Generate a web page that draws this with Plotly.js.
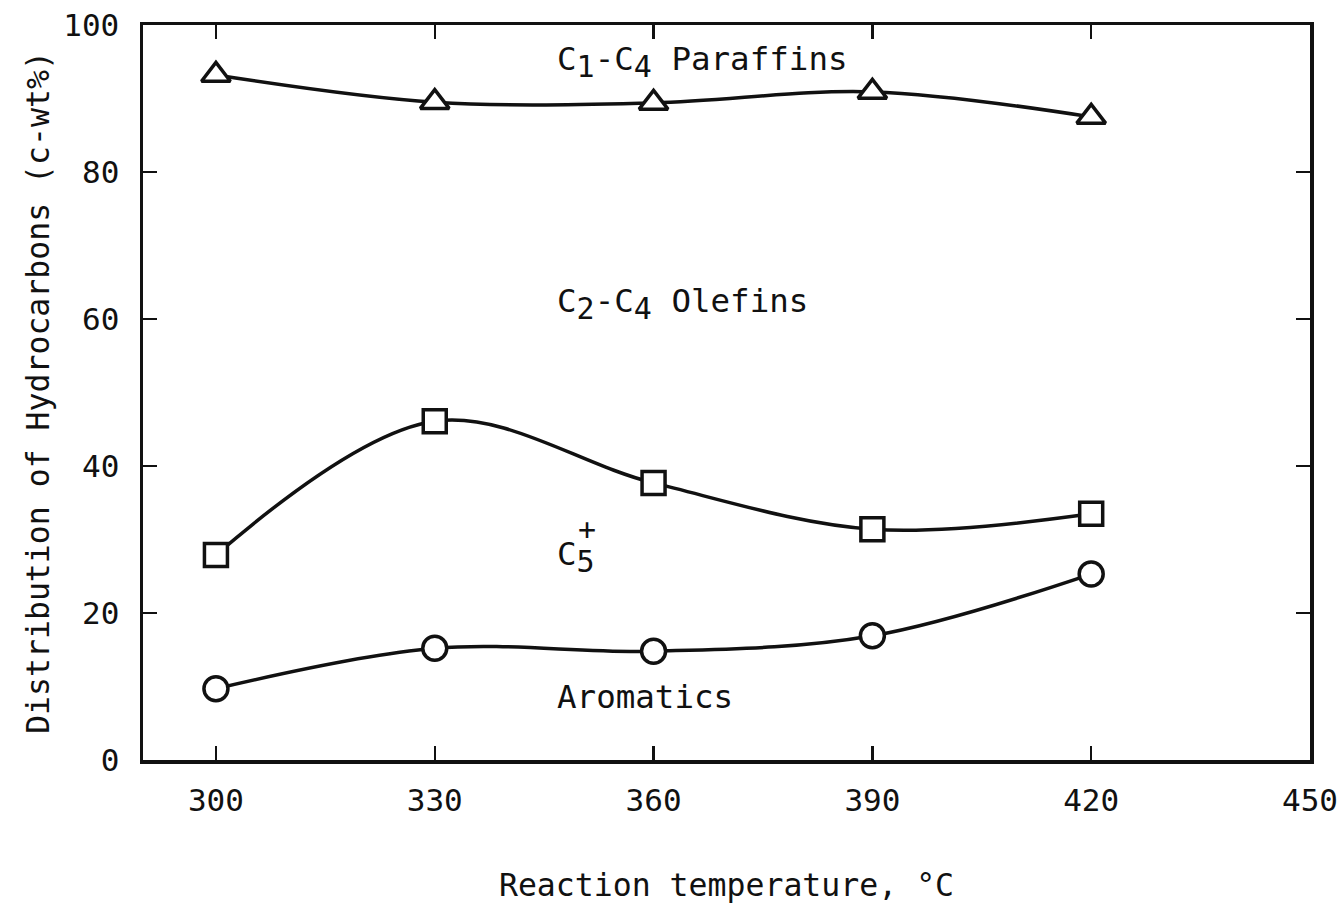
<!DOCTYPE html>
<html>
<head>
<meta charset="utf-8">
<script src="https://cdn.plot.ly/plotly-3.0.1.min.js"></script>
<style>html,body{margin:0;padding:0;background:#fff;}#chart{width:1341px;height:906px;}</style>
</head>
<body>
<div id="chart"></div>
<script>
const temperatures = [300, 330, 360, 390, 420];
const paraffins = [93.2, 89.5, 89.4, 90.9, 87.5];
const cPlus = [27.9, 46.1, 37.7, 31.4, 33.5];
const aromatics = [9.7, 15.2, 14.8, 16.9, 25.3];
const xTicks = [300, 330, 360, 390, 420, 450];
const yTicks = [0, 20, 40, 60, 80, 100];

const FONT = "DejaVu Sans Mono, monospace";

function series(y, symbol, size) {
  return {
    x: temperatures, y: y, type: 'scatter', mode: 'lines+markers',
    line: {color: '#111', width: 3.5, shape: 'spline', smoothing: 1},
    marker: {symbol: symbol, size: size, color: '#fff', line: {color: '#111', width: 3.5}},
    showlegend: false, hoverinfo: 'x+y'
  };
}

const data = [
  series(paraffins, 'triangle-up', 25),
  series(cPlus, 'square', 23),
  series(aromatics, 'circle', 24)
];

function sub(t) { return '<sub><span style="font-size:30px">' + t + '</span></sub>'; }

const annFont = {family: FONT, size: 32.5, color: '#111'};
const layout = {
  width: 1341, height: 906,
  margin: {l: 143, r: 31, t: 25, b: 146},
  paper_bgcolor: '#fff', plot_bgcolor: '#fff',
  font: {family: FONT, color: '#111'},
  xaxis: {
    range: [290, 450], tickvals: xTicks, ticktext: xTicks.map(String),
    ticks: 'inside', ticklen: 14, tickwidth: 2.5, tickcolor: '#111',
    showline: true, linecolor: '#111', linewidth: 3.5, mirror: 'ticks',
    showgrid: false, zeroline: false, ticklabelstandoff: 10,
    tickfont: {family: FONT, size: 31, color: '#111'},
    title: {text: 'Reaction temperature, °C', font: {family: FONT, size: 31.5, color: '#111'}, standoff: 58}
  },
  yaxis: {
    range: [0, 100], tickvals: yTicks, ticktext: yTicks.map(String),
    ticks: 'inside', ticklen: 14, tickwidth: 2.5, tickcolor: '#111',
    showline: true, linecolor: '#111', linewidth: 3.5, mirror: 'ticks',
    showgrid: false, zeroline: false, ticklabelstandoff: 14,
    tickfont: {family: FONT, size: 31, color: '#111'},
    title: {text: 'Distribution of Hydrocarbons (c-wt%)', font: {family: FONT, size: 31.5, color: '#111'}, standoff: 5}
  },
  annotations: [
    {x: 346.5, y: 95.0, xref: 'x', yref: 'y', xanchor: 'left', text: 'C' + sub('1') + '-C' + sub('4') + ' Paraffins', showarrow: false, font: annFont},
    {x: 346.5, y: 62.0, xref: 'x', yref: 'y', xanchor: 'left', text: 'C' + sub('2') + '-C' + sub('4') + ' Olefins', showarrow: false, font: annFont},
    {x: 346.5, y: 27.6, xref: 'x', yref: 'y', xanchor: 'left', text: 'C' + sub('5'), showarrow: false, font: annFont},
    {x: 349.3, y: 31.3, xref: 'x', yref: 'y', xanchor: 'left', text: '+', showarrow: false, font: {family: FONT, size: 30, color: '#111'}},
    {x: 346.5, y: 8.6, xref: 'x', yref: 'y', xanchor: 'left', text: 'Aromatics', showarrow: false, font: annFont}
  ]
};

Plotly.newPlot('chart', data, layout, {displayModeBar: false, staticPlot: true});
</script>
</body>
</html>
